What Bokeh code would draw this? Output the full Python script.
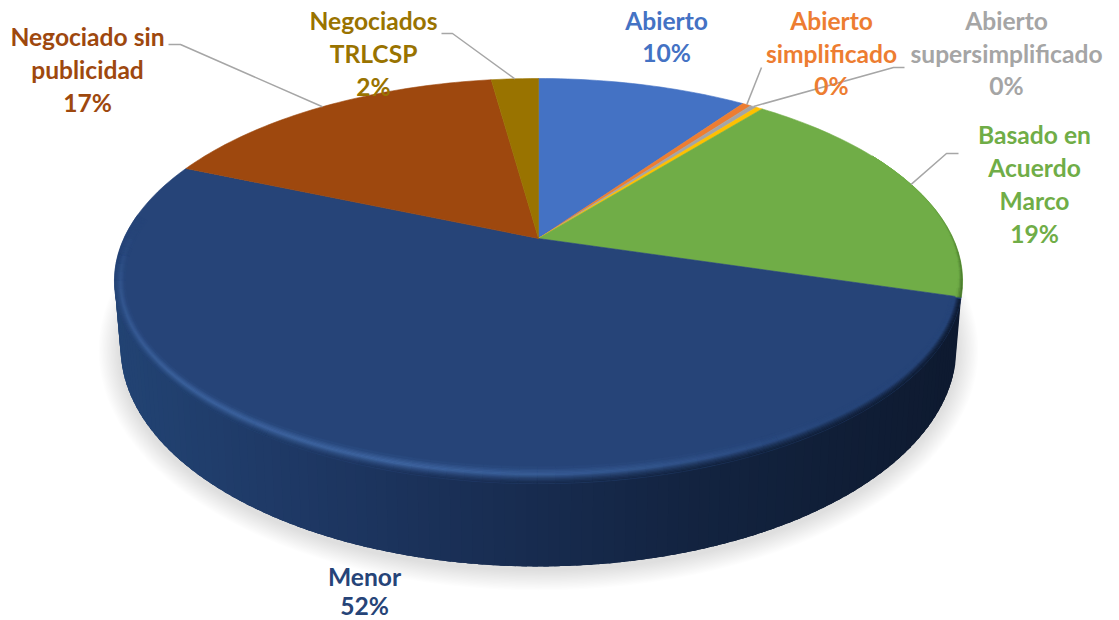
import math
from bokeh.plotting import figure
from bokeh.models import Range1d
from bokeh.core.properties import value
from bokeh.embed import file_html
from bokeh.resources import INLINE

# ---- data ----
categories = ["Abierto", "Abierto simplificado", "Abierto supersimplificado", "Sin etiqueta",
              "Basado en Acuerdo Marco", "Menor", "Negociado sin publicidad", "Negociados TRLCSP"]
shares = [9.8, 0.4, 0.3, 0.3, 18.8, 51.8, 16.4, 2.2]
percent_labels = ["10%", "0%", "0%", "", "19%", "52%", "17%", "2%"]
label_lines = [["Abierto"], ["Abierto", "simplificado"], ["Abierto", "supersimplificado"], [],
               ["Basado en", "Acuerdo", "Marco"], ["Menor"], ["Negociado sin", "publicidad"],
               ["Negociados", "TRLCSP"]]

# ---- styles and layout ----
colors = ["#4472c4", "#ed7d31", "#a5a5a5", "#ffc000", "#70ad47", "#264478", "#9e480e", "#997300"]
label_x = [666, 831, 1006, None, 1034, 364, 87, 373]
label_y = [20, 20, 20, None, 134, 576, 36, 20]
line_step = [32, 32.5, 32.5, 0, 33, 29, 33, 33]
elbow = [None, [(761, 67)], [(904, 67), (893, 67)], None, [(958, 153), (946, 153)], None,
         [(168, 44), (180, 44)], [(441, 33), (452, 33)]]
FONT = "Lato"
SIZE = "24.6px"

CX, APEX_Y, A, B, K = 538, 238, 193.6, 414.6, 0.21
TOP = (538, 280.5, 424, 202.5)
BOT = (538, 347, 418, 219)


def rim(pct):
    th = 2 * math.pi * pct / 100
    u, v = math.sin(th), math.cos(th)
    w = 1 + K * v
    return CX + B * u / w, APEX_Y - A * v / w


def ell(e, t, a=0.0, dx=11, dy=17):
    cx, cy, rx, ry = e
    r = math.radians(t)
    return cx + (rx - a * dx) * math.cos(r), cy + (ry - a * dy) * math.sin(r)


def hx(c):
    return tuple(int(c[i:i + 2], 16) for i in (1, 3, 5))


def mix(c1, c2, f):
    f = max(0.0, min(1.0, f))
    a, b = hx(c1), hx(c2)
    return "#%02x%02x%02x" % tuple(round(a[i] + (b[i] - a[i]) * f) for i in range(3))


def lerp_stops(stops, x):
    if x <= stops[0][0]:
        return stops[0][1]
    for (x0, c0), (x1, c1) in zip(stops, stops[1:]):
        if x <= x1:
            return mix(c0, c1, (x - x0) / (x1 - x0))
    return stops[-1][1]


SIDE = [(115, "#224373"), (300, "#1e3864"), (480, "#192e54"), (680, "#132441"), (950, "#0e1a30")]

p = figure(width=1119, height=620, x_range=Range1d(0, 1119), y_range=Range1d(620, 0),
           x_axis_type=None, y_axis_type=None, toolbar_location=None, output_backend="svg",
           min_border=0, outline_line_color=None, background_fill_color="white")
p.grid.visible = False

# soft shadow
for i in range(16):
    f = i / 15
    xs, ys = [], []
    for d in range(0, 360, 3):
        x, y = ell((538, 350, 418 + 22 - 20 * f, 219 + 21 - 19 * f), d, 0)
        xs.append(x)
        ys.append(y)
    p.patch(xs, ys, fill_color="black", fill_alpha=0.009, line_color=None)

# start of every slice on the clock, in percent
starts = []
c = 0.0
for s in shares:
    starts.append(c)
    c += s
total = c
menor = categories.index("Menor")
green = categories.index("Basado en Acuerdo Marco")
mx, my = rim(starts[menor])
t0 = math.degrees(math.atan2((my - TOP[1]) / TOP[3], (mx - TOP[0]) / TOP[2]))

# side wall of the big slice: each strip overlaps the next one, so no seams show
t = t0
step = 1.5
while t < 180:
    t1 = min(180, t + step)
    t2 = min(180, t + 2.5 * step)
    a, b = ell(TOP, t), ell(TOP, t2)
    d, e = ell(BOT, t2), ell(BOT, t)
    col = lerp_stops(SIDE, ell(TOP, (t + t1) / 2)[0])
    p.patch([a[0], b[0], d[0], e[0]], [a[1], b[1], d[1], e[1]], fill_color=col, line_color=None)
    t = t1

# top faces
for i, (s, st) in enumerate(zip(shares, starts)):
    xs, ys = [CX], [APEX_Y]
    n = max(2, int(s * 3))
    for j in range(n + 1):
        x, y = rim((st + s * j / n) * 100 / total)
        xs.append(x)
        ys.append(y)
    p.patch(xs, ys, fill_color=colors[i], line_color=colors[i], line_width=0.6)

# bevel of the big slice
FACE = colors[menor]
LIGHT = "#4067a3"


def hl(t):
    pts = [(0, 0), (45, 0.05), (75, 0.55), (110, 1.0), (150, 0.9), (178, 0.55), (195, 0.0), (300, 0)]
    for (a0, v0), (a1, v1) in zip(pts, pts[1:]):
        if t <= a1:
            return v0 + (v1 - v0) * (t - a0) / (a1 - a0)
    return 0


BANDS = [0, .08, .16, .24, .32, .40, .48, .56, .64, .72, .80, .88, 1.0]
bx, by, bc = [], [], []
t = t0 + 0.6
t_end = 199
while t < t_end:
    t1 = min(t_end, t + 2.5)
    tm = (t + t1) / 2
    edge = lerp_stops(SIDE, ell(TOP, tm)[0])
    if tm <= 150:
        out = 1.0
    elif tm <= 180:
        out = 1 - 0.7 * (tm - 150) / 30
    else:
        out = max(0.0, 0.3 - 0.3 * (tm - 180) / 14)
    h = mix(FACE, LIGHT, hl(tm))
    for a0, a1 in zip(BANDS, BANDS[1:]):
        am = (a0 + a1) / 2
        if am < 0.55:
            col = mix(mix(FACE, edge, out), h, (am / 0.55) ** 1.6)
        else:
            col = mix(h, FACE, (am - 0.55) / 0.45)
        pts = [ell(TOP, t, a0), ell(TOP, t1, a0), ell(TOP, t1, a1), ell(TOP, t, a1)]
        bx.append([q[0] for q in pts])
        by.append([q[1] for q in pts])
        bc.append(col)
    t = t1
p.patches(bx, by, fill_color=bc, line_color=bc, line_width=0.5)

# thin dark bevel of the green slice
gx, gy, gc = [], [], []
t = -38.0
while t < t0:
    t1 = min(t0, t + 2.5)
    tm = (t + t1) / 2
    w = max(0.0, (tm + 38) / (38 + t0))
    for a0, a1 in zip([0, .1, .2, .3], [.1, .2, .3, .4]):
        am = (a0 + a1) / 2
        col = mix("#3f6b26", colors[green], min(1, am / .4 + (1 - w)))
        pts = [ell(TOP, t, a0 * w, 14, 8), ell(TOP, t1, a0 * w, 14, 8),
               ell(TOP, t1, a1 * w, 14, 8), ell(TOP, t, a1 * w, 14, 8)]
        gx.append([q[0] for q in pts])
        gy.append([q[1] for q in pts])
        gc.append(col)
    t = t1
p.patches(gx, gy, fill_color=gc, line_color=gc, line_width=0.4)

# leader lines: from each label's elbow to the rim at the slice's middle
for i, el in enumerate(elbow):
    if not el:
        continue
    ex, ey = rim((starts[i] + shares[i] / 2) * 100 / total)
    xs = [q[0] for q in el] + [ex]
    ys = [q[1] for q in el] + [ey]
    p.line(xs, ys, line_color="#a6a6a6", line_width=1.5)

# labels
for i, lines in enumerate(label_lines):
    if not lines:
        continue
    rows = lines + [percent_labels[i]]
    xs = [label_x[i]] * len(rows)
    ys = [label_y[i] + k * line_step[i] for k in range(len(rows))]
    p.text(xs, ys, text=rows, text_font=value(FONT), text_font_size=value(SIZE),
           text_font_style="bold", text_color=colors[i], text_align="center",
           text_baseline="middle")

open("out.html", "w").write(file_html(p, INLINE))
